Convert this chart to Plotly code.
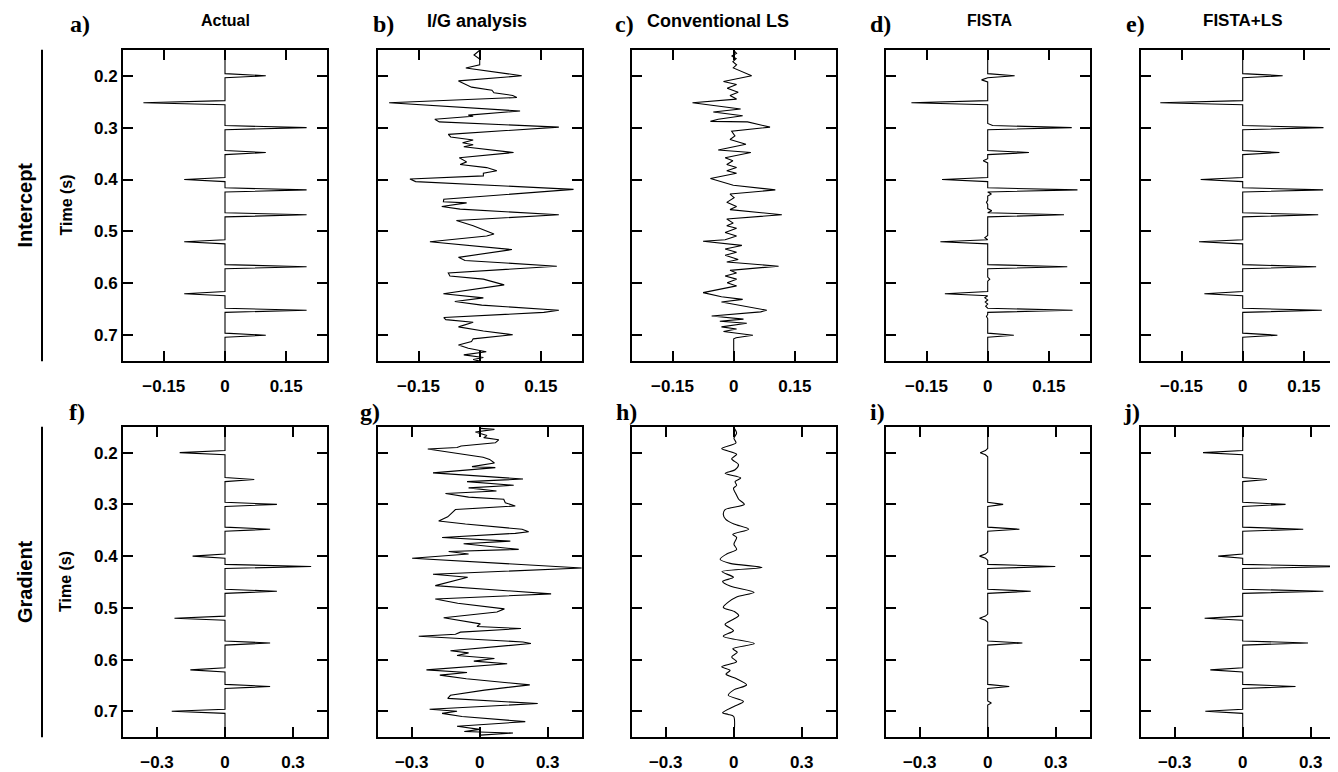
import numpy as np
import plotly.graph_objects as go

# The page body has an 8 px margin; the figure is sized/positioned to compensate
OFF = 8
W, H = 1338 - OFF, 772 - OFF

# ---------------- data ----------------
# reflector times (s) shared by all sparse traces
spike_times = [0.2, 0.252, 0.3, 0.348, 0.4, 0.42, 0.468, 0.52, 0.568, 0.62, 0.652, 0.7]

# a) Actual intercept
a_amps = [0.10, -0.20, 0.20, 0.10, -0.10, 0.20, 0.20, -0.10, 0.20, -0.10, 0.20, 0.10]
# e) FISTA+LS intercept
e_amps = [0.098, -0.202, 0.198, 0.090, -0.103, 0.197, 0.185, -0.107, 0.180, -0.094, 0.194, 0.085]
# d) FISTA intercept (main spikes + small side lobes)
d_times = [0.2, 0.208, 0.252, 0.296, 0.3, 0.348, 0.364, 0.4, 0.42, 0.428, 0.444, 0.46, 0.468,
           0.512, 0.52, 0.568, 0.592, 0.62, 0.628, 0.636, 0.644, 0.652, 0.664, 0.7]
d_amps = [0.066, -0.015, -0.187, 0.012, 0.206, 0.101, -0.011, -0.112, 0.220, 0.009, -0.003, 0.010, 0.187,
          -0.007, -0.116, 0.195, 0.005, -0.105, -0.007, -0.006, -0.005, 0.208, -0.003, 0.064]
# f) Actual gradient
f_amps = [-0.200, 0.129, 0.229, 0.199, -0.143, 0.380, 0.229, -0.223, 0.199, -0.153, 0.199, -0.235]
# j) FISTA+LS gradient
j_amps = [-0.175, 0.107, 0.189, 0.267, -0.108, 0.450, 0.356, -0.168, 0.288, -0.143, 0.233, -0.165]
# i) FISTA gradient
i_times = [0.196, 0.2, 0.204, 0.3, 0.348, 0.396, 0.4, 0.404, 0.42, 0.468, 0.516, 0.52, 0.524,
           0.568, 0.652, 0.684]
i_amps = [-0.010, -0.033, -0.010, 0.068, 0.140, -0.010, -0.036, -0.010, 0.298, 0.190, -0.010, -0.036,
          -0.010, 0.153, 0.095, 0.016]

# b) I/G analysis intercept (time, value)
b_t = [0.151, 0.160, 0.168, 0.179, 0.185, 0.200, 0.210, 0.222, 0.228, 0.233, 0.238, 0.242, 0.252,
       0.268, 0.276, 0.278, 0.284, 0.289, 0.299, 0.313, 0.318, 0.324, 0.329, 0.333, 0.337, 0.348,
       0.358, 0.366, 0.371, 0.377, 0.383, 0.388, 0.393, 0.399, 0.404, 0.419, 0.438, 0.443, 0.445,
       0.452, 0.457, 0.468, 0.479, 0.489, 0.505, 0.509, 0.520, 0.535, 0.550, 0.556, 0.567, 0.580,
       0.586, 0.592, 0.603, 0.620, 0.628, 0.635, 0.642, 0.652, 0.656, 0.666, 0.670, 0.675, 0.684,
       0.692, 0.699, 0.707, 0.712, 0.719, 0.725, 0.732, 0.738, 0.743, 0.747, 0.750]
b_v = [0.0, -0.014, 0.0, 0.0, -0.034, 0.103, -0.052, -0.020, 0.030, 0.035, 0.081, 0.091, -0.222,
       0.099, -0.028, -0.016, -0.110, -0.099, 0.194, -0.077, -0.071, -0.016, -0.042, -0.016, -0.039, 0.083,
       -0.050, -0.032, -0.048, 0.017, 0.042, 0.009, 0.009, -0.171, -0.157, 0.230, -0.088, -0.089, -0.032,
       -0.093, -0.048, 0.194, -0.057, -0.016, 0.035, 0.017, -0.122, 0.079, -0.052, -0.036, 0.189, -0.077,
       -0.073, 0.009, 0.060, -0.089, 0.009, -0.061, 0.005, 0.194, 0.157, -0.088, -0.083, -0.016, -0.052,
       0.009, 0.081, -0.016, -0.020, -0.052, -0.028, 0.016, -0.039, 0.009, -0.016, 0.0]

# c) Conventional LS intercept
c_t = [0.151, 0.157, 0.162, 0.167, 0.173, 0.179, 0.185, 0.200, 0.211, 0.217, 0.224, 0.232, 0.238,
       0.245, 0.252, 0.264, 0.270, 0.277, 0.284, 0.288, 0.289, 0.299, 0.307, 0.316, 0.323, 0.332,
       0.343, 0.348, 0.358, 0.364, 0.371, 0.377, 0.383, 0.388, 0.398, 0.411, 0.420, 0.428, 0.435,
       0.444, 0.452, 0.458, 0.468, 0.476, 0.484, 0.489, 0.494, 0.502, 0.509, 0.516, 0.519, 0.527,
       0.534, 0.540, 0.546, 0.554, 0.559, 0.567, 0.575, 0.580, 0.586, 0.592, 0.599, 0.605, 0.618,
       0.626, 0.631, 0.636, 0.652, 0.655, 0.663, 0.669, 0.673, 0.677, 0.684, 0.688, 0.693, 0.700,
       0.705, 0.707, 0.750]
c_v = [0.0, 0.007, -0.005, 0.006, -0.002, 0.007, -0.001, 0.044, -0.025, 0.007, -0.016, 0.011, -0.009,
       0.007, -0.101, 0.017, -0.050, 0.022, -0.038, -0.057, 0.034, 0.089, -0.005, 0.003, -0.009, 0.030,
       -0.038, 0.042, -0.021, -0.002, -0.017, 0.007, -0.017, 0.007, -0.057, -0.001, 0.102, -0.009, 0.001,
       -0.017, 0.007, -0.009, 0.118, -0.017, -0.001, -0.017, 0.007, -0.021, 0.007, -0.021, -0.075, 0.020,
       -0.021, 0.007, -0.021, 0.011, -0.017, 0.110, -0.009, 0.007, -0.021, 0.007, -0.016, 0.007, -0.075,
       -0.030, 0.022, -0.030, 0.081, 0.066, -0.054, 0.024, -0.034, 0.032, -0.030, 0.007, -0.025, 0.047,
       0.006, 0.0, 0.0]

# g) I/G analysis gradient
g_t = [0.153, 0.155, 0.160, 0.167, 0.171, 0.175, 0.181, 0.187, 0.190, 0.193, 0.209, 0.213, 0.220,
       0.227, 0.229, 0.239, 0.251, 0.256, 0.263, 0.268, 0.274, 0.279, 0.286, 0.290, 0.297, 0.303,
       0.310, 0.318, 0.324, 0.332, 0.338, 0.348, 0.353, 0.356, 0.364, 0.371, 0.376, 0.387, 0.391,
       0.396, 0.404, 0.423, 0.435, 0.441, 0.457, 0.473, 0.483, 0.491, 0.502, 0.508, 0.519, 0.531,
       0.536, 0.540, 0.547, 0.551, 0.555, 0.566, 0.569, 0.583, 0.587, 0.592, 0.598, 0.603, 0.608,
       0.620, 0.625, 0.630, 0.637, 0.649, 0.659, 0.669, 0.675, 0.685, 0.691, 0.696, 0.700, 0.704,
       0.710, 0.720, 0.729, 0.735, 0.739, 0.742, 0.746, 0.750]
g_v = [0.003, 0.065, -0.019, 0.032, 0.018, 0.084, 0.069, -0.082, -0.100, -0.229, 0.015, 0.044, 0.065,
       -0.034, 0.069, -0.206, 0.191, -0.056, 0.150, -0.049, 0.074, -0.151, -0.049, 0.106, 0.113, 0.157,
       -0.107, -0.129, -0.141, -0.181, -0.063, 0.187, 0.216, 0.157, -0.166, 0.135, -0.071, 0.172, -0.137,
       -0.049, -0.298, 0.451, -0.206, -0.053, -0.196, 0.315, -0.196, -0.097, 0.109, 0.076, -0.159, 0.003,
       -0.012, 0.182, -0.085, -0.107, -0.269, 0.191, 0.226, -0.129, -0.049, -0.100, 0.065, -0.026, 0.121,
       -0.235, -0.056, -0.176, -0.059, 0.221, 0.021, -0.129, -0.141, 0.256, -0.026, -0.221, -0.100, -0.166,
       -0.078, 0.201, -0.100, 0.0, -0.068, 0.147, 0.003, 0.0]

# h) Conventional LS gradient
h_t = [0.153, 0.162, 0.172, 0.181, 0.192, 0.203, 0.212, 0.223, 0.233, 0.240, 0.249, 0.256, 0.263,
       0.269, 0.279, 0.290, 0.300, 0.310, 0.319, 0.329, 0.338, 0.348, 0.358, 0.364, 0.377, 0.387,
       0.396, 0.406, 0.414, 0.422, 0.430, 0.441, 0.449, 0.458, 0.470, 0.479, 0.489, 0.499, 0.508,
       0.515, 0.522, 0.532, 0.544, 0.555, 0.569, 0.579, 0.586, 0.595, 0.604, 0.614, 0.621, 0.628,
       0.637, 0.649, 0.659, 0.669, 0.681, 0.691, 0.703, 0.706, 0.710, 0.752]
h_v = [0.003, 0.013, 0.001, 0.010, -0.053, 0.013, -0.009, 0.021, 0.006, -0.038, 0.031, 0.006, 0.013,
       -0.001, 0.009, 0.022, 0.047, -0.038, -0.046, -0.035, 0.001, 0.066, -0.004, 0.013, 0.001, 0.013,
       -0.031, -0.060, -0.016, 0.125, -0.052, -0.001, -0.049, -0.016, 0.090, 0.013, -0.024, -0.046, 0.006,
       0.022, -0.001, -0.038, -0.001, -0.046, 0.091, -0.004, 0.016, -0.009, 0.013, -0.053, -0.016, -0.034,
       0.013, 0.057, -0.001, -0.024, 0.043, -0.001, -0.049, -0.024, 0.0, 0.0]

titles = ["Actual", "I/G analysis", "Conventional LS", "FISTA", "FISTA+LS"]
letters = ["a)", "b)", "c)", "d)", "e)", "f)", "g)", "h)", "i)", "j)"]
row_labels = ["Intercept", "Gradient"]
y_ticks = [0.2, 0.3, 0.4, 0.5, 0.6, 0.7]
y_ticktext = ["0.2", "0.3", "0.4", "0.5", "0.6", "0.7"]
x_ticks_top = [-0.15, 0, 0.15]
x_ticktext_top = ["\u22120.15", "0", "0.15"]
x_ticks_bot = [-0.3, 0, 0.3]
x_ticktext_bot = ["\u22120.3", "0", "0.3"]

# sample grid (4 ms) for sparse reflectivity traces
t_grid = np.round(np.arange(37, 189) * 0.004, 3)


def sparse_trace(times, amps):
    vals = np.zeros(len(t_grid))
    for t, a in zip(times, amps):
        idx = int(np.argmin(np.abs(t_grid - t)))
        vals[idx] = a
    return t_grid, vals


panels = [
    sparse_trace(spike_times, a_amps),
    (b_t, b_v),
    (c_t, c_v),
    sparse_trace(d_times, d_amps),
    sparse_trace(spike_times, e_amps),
    sparse_trace(spike_times, f_amps),
    (g_t, g_v),
    (h_t, h_v),
    sparse_trace(i_times, i_amps),
    sparse_trace(spike_times, j_amps),
]
smooth_panels = {7}   # h) is drawn as a smooth curve


# screen pixel -> paper fraction
def px(x):
    return (x - OFF) / W


def py(y):
    return 1 - (y - OFF) / H


# ---------------- layout ----------------
lefts = [123, 377.7, 631.7, 885.7, 1140.7]
pw = 204
rows_px = [(50, 363), (429, 741)]
FONT = "Liberation Sans, Arial, Helvetica, sans-serif"
SERIF = "Liberation Serif, Times New Roman, serif"
TICK_SIZE = 17
title_x = [225, 477, 718, 990, 1243]
title_size = [16, 18, 18, 16, 17]

fig = go.Figure()
layout = dict(
    width=W, height=H, margin=dict(l=0, r=0, t=0, b=0),
    paper_bgcolor="white", plot_bgcolor="white", showlegend=False,
    font=dict(family=FONT, color="black"),
)

for n in range(10):
    r, c = divmod(n, 5)
    ax = n + 1
    xs = "" if ax == 1 else str(ax)
    top, bot = rows_px[r]
    half = 0.25 if r == 0 else 0.45
    x0 = lefts[c]
    x1 = x0 + pw
    xr = [-half, half]
    clipped = x1 > OFF + W
    if clipped:
        xr = [-half, -half + (OFF + W - x0) * (2 * half) / pw]
        x1 = OFF + W
    t, v = panels[n]
    line = dict(color="black", width=1.1)
    if n in smooth_panels:
        line.update(shape="spline", smoothing=0.8)
    fig.add_trace(go.Scatter(x=v, y=t, mode="lines", line=line,
                             xaxis="x" + xs, yaxis="y" + xs, hoverinfo="skip"))
    layout["xaxis" + xs] = dict(
        domain=[px(x0), min(1.0, px(x1))], range=xr, anchor="y" + xs,
        showline=True, linewidth=2, linecolor="black", mirror="ticks",
        ticks="inside", ticklen=10, tickwidth=2, tickcolor="black",
        tickvals=x_ticks_top if r == 0 else x_ticks_bot,
        ticktext=x_ticktext_top if r == 0 else x_ticktext_bot,
        tickfont=dict(size=TICK_SIZE, family=FONT, weight="bold"),
        ticklabelstandoff=8,
        showgrid=False, zeroline=False, fixedrange=True,
    )
    layout["yaxis" + xs] = dict(
        domain=[py(bot), py(top)], range=[0.75, 0.15], anchor="x" + xs,
        showline=True, linewidth=2, linecolor="black",
        mirror=False if clipped else "ticks",
        ticks="inside", ticklen=10, tickwidth=2, tickcolor="black",
        tickvals=y_ticks, ticktext=y_ticktext,
        showticklabels=(c == 0),
        tickfont=dict(size=TICK_SIZE, family=FONT, weight="bold"),
        showgrid=False, zeroline=False, fixedrange=True,
    )
    if clipped:
        extra = 11 + r
        layout["yaxis%d" % extra] = dict(
            domain=[py(bot), py(top)], range=[0.75, 0.15], anchor="x" + xs,
            overlaying="y" + xs, side="right", showline=False,
            ticks="inside", ticklen=3, tickwidth=2, tickcolor="black",
            tickvals=y_ticks, showticklabels=False, showgrid=False, zeroline=False,
        )
        fig.add_trace(go.Scatter(x=[None], y=[None], xaxis="x" + xs, yaxis="y%d" % extra,
                                 showlegend=False, hoverinfo="skip"))

ann = []
for c, ttl in enumerate(titles):
    ann.append(dict(text="<b>%s</b>" % ttl, x=px(title_x[c]), y=py(21),
                    xref="paper", yref="paper", xanchor="center", yanchor="middle",
                    showarrow=False, font=dict(size=title_size[c], family=FONT, color="black")))
letter_x = [80, 383, 624, 881, 1135, 77, 370, 626, 877, 1131]
for n, lt in enumerate(letters):
    yy = 24 if n < 5 else 414
    ann.append(dict(text="<b>%s</b>" % lt, x=px(letter_x[n]), y=py(yy),
                    xref="paper", yref="paper", xanchor="center", yanchor="middle",
                    showarrow=False, font=dict(size=24, family=SERIF, color="black")))
shapes = []
for r, lab in enumerate(row_labels):
    top, bot = rows_px[r]
    mid = (top + bot) / 2
    ann.append(dict(text="<b>%s</b>" % lab, x=px(25), y=py(mid), textangle=-90,
                    xref="paper", yref="paper", xanchor="center", yanchor="middle",
                    showarrow=False, font=dict(size=20, family=FONT, color="black")))
    ann.append(dict(text="<b>Time (s)</b>", x=px(66), y=py(mid), textangle=-90,
                    xref="paper", yref="paper", xanchor="center", yanchor="middle",
                    showarrow=False, font=dict(size=16, family=FONT, color="black")))
    shapes.append(dict(type="line", xref="paper", yref="paper", x0=px(42), x1=px(42),
                       y0=py(top), y1=py(bot), line=dict(color="black", width=2)))

layout["annotations"] = ann
layout["shapes"] = shapes
fig.update_layout(**layout)
fig.write_html("out.html", config={"displayModeBar": False})
